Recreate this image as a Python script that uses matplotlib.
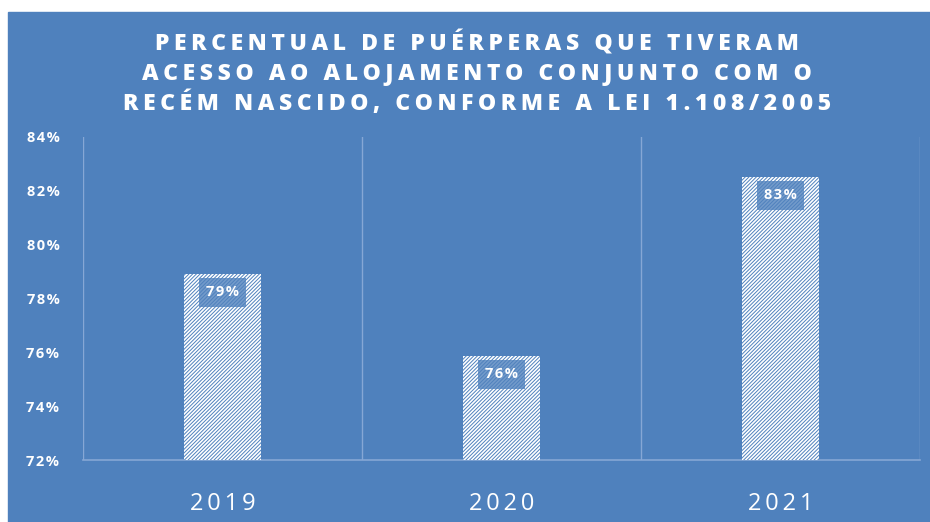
import matplotlib
matplotlib.use("Agg")
import matplotlib.pyplot as plt
from matplotlib.patches import Rectangle

# data
years = ["2019", "2020", "2021"]
values = [78.9, 75.85, 82.5]
labels = ["79%", "76%", "83%"]
yticks = [72, 74, 76, 78, 80, 82, 84]

title_lines = ["PERCENTUAL DE PUÉRPERAS QUE TIVERAM",
               "ACESSO AO ALOJAMENTO CONJUNTO COM O",
               "RECÉM NASCIDO, CONFORME A LEI 1.108/2005"]

bg = "#4f81bd"
grid = "#86a7d5"


def spaced(s, sep="\u2009"):
    # crude letter spacing
    return sep.join(s)


plt.rcParams["font.family"] = ["Open Sans", "DejaVu Sans"]
plt.rcParams["hatch.linewidth"] = 0.7

fig = plt.figure(figsize=(9.3, 5.22), dpi=100, facecolor="white")
# blue chart area, white strip at the top (cropped page)
fig.patches.append(Rectangle((8 / 930, 0), 1, 1 - 12 / 522,
                             transform=fig.transFigure, color=bg, zorder=-5))

ax = fig.add_axes([83 / 930, 1 - 460 / 522, 837 / 930, 323 / 522])
ax.set_facecolor("none")
ax.set_zorder(2)

x = list(range(len(years)))
ax.bar(x, values, width=0.276, bottom=0, color="white",
       edgecolor=bg, hatch="/" * 9, linewidth=0, zorder=3)

for xi, v, lab in zip(x, values, labels):
    ax.annotate(spaced(lab, "\u200a"), (xi, v), xytext=(0, -13), textcoords="offset points",
                ha="center", va="center", color="white", fontsize=10.5,
                fontweight="bold", zorder=5,
                bbox=dict(boxstyle="square,pad=0.5", fc=bg, ec="none", alpha=0.8))

ax.set_xlim(-0.5, 2.5)
ax.set_ylim(72, 84)
ax.set_yticks(yticks)
ax.set_yticklabels([spaced(f"{t}%", "\u200a") for t in yticks])
ax.set_xticks(x)
ax.set_xticklabels([spaced(y) for y in years])

for xv in [-0.5, 0.5, 1.5, 2.5]:
    ax.axvline(xv, color=grid, lw=1, zorder=1)

for s in ["top", "right", "left"]:
    ax.spines[s].set_visible(False)
ax.spines["bottom"].set_color(grid)
ax.spines["bottom"].set_linewidth(1.2)

ax.tick_params(axis="y", length=0, pad=17, labelcolor="white", labelsize=10.5)
ax.tick_params(axis="x", length=0, pad=23, labelcolor="white", labelsize=17)
for t in ax.get_yticklabels():
    t.set_fontweight("bold")

for i, line in enumerate(title_lines):
    fig.text(0.513, 1 - (44 + 30 * i) / 522, spaced(line), ha="center", va="center",
             color="white", fontsize=16.5, fontweight=800)

fig.savefig("out.png", dpi=100, facecolor="white")
